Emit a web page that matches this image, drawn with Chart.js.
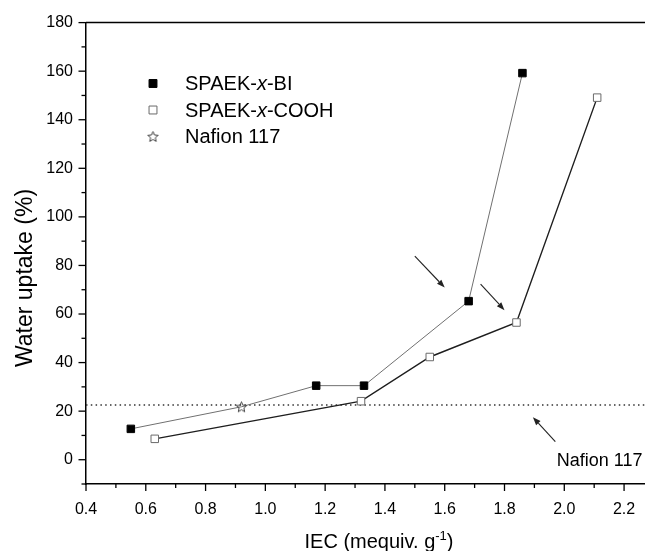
<!DOCTYPE html>
<html>
<head>
<meta charset="utf-8">
<title>Water uptake vs IEC</title>
<script src="https://cdn.jsdelivr.net/npm/chart.js@4.4.0/dist/chart.umd.min.js"></script>
<style>
  html, body { margin: 0; padding: 0; background: #fff; overflow: hidden; }
</style>
</head>
<body>
<canvas id="myChart" width="645" height="551"></canvas>
<script>
// water uptake (%) against ion exchange capacity (mequiv/g)
const biIec = [0.55, 1.17, 1.33, 1.68, 1.86];
const biUptake = [12.7, 30.5, 30.5, 65.3, 159.2];
const coohIec = [0.63, 1.32, 1.55, 1.84, 2.11];
const coohUptake = [8.6, 24.1, 42.3, 56.5, 149.1];
const nafionIec = [0.92];
const nafionUptake = [21.8];
const nafionLevel = 22.5;

const xRange = [0.4, 2.27];
const yRange = [-10, 180];

const FONT = "'Liberation Sans', Arial, Helvetica, sans-serif";
Chart.defaults.font.family = FONT;
Chart.defaults.color = '#000';

// five-pointed open star used for the Nafion point
function starMarker(size, color) {
  const c = document.createElement('canvas');
  c.width = size; c.height = size;
  const g = c.getContext('2d');
  const cx = size / 2, cy = size / 2 + 0.5, R = size / 2 - 1, r = R * 0.45;
  g.beginPath();
  for (let i = 0; i < 10; i++) {
    const a = -Math.PI / 2 + i * Math.PI / 5;
    const rad = i % 2 ? r : R;
    g.lineTo(cx + rad * Math.cos(a), cy + rad * Math.sin(a));
  }
  g.closePath();
  g.strokeStyle = color;
  g.lineWidth = 1;
  g.stroke();
  return c;
}
const star = starMarker(13, '#444');

// the BI curve passes through the Nafion point, so merge them for the line
const biLine = biIec.map((x, i) => ({ x: x, y: biUptake[i], nafion: false }))
  .concat(nafionIec.map((x, i) => ({ x: x, y: nafionUptake[i], nafion: true })))
  .sort((a, b) => a.x - b.x);
const coohLine = coohIec.map((x, i) => ({ x: x, y: coohUptake[i] }));
const nafionRef = [{ x: xRange[0], y: nafionLevel }, { x: xRange[1], y: nafionLevel }];

const isMajor = (v, step) => Math.abs(v / step - Math.round(v / step)) < 1e-6;

// arrows and note, given in data units
const arrows = [
  { from: [1.50, 83.8], to: [1.60, 70.9] },
  { from: [1.72, 72.3], to: [1.80, 61.6] },
  { from: [1.97, 7.5], to: [1.895, 17.5] }
];

const extras = {
  id: 'extras',
  afterDraw(chart) {
    const { ctx, chartArea, scales: { x, y } } = chart;
    ctx.save();

    // top frame line
    ctx.strokeStyle = '#000';
    ctx.lineWidth = 1.5;
    ctx.beginPath();
    ctx.moveTo(chartArea.left, chartArea.top);
    ctx.lineTo(chartArea.right, chartArea.top);
    ctx.stroke();

    // outward ticks, long on labelled values
    ctx.lineWidth = 1.3;
    x.ticks.forEach(t => {
      const px = x.getPixelForValue(t.value);
      const len = isMajor(t.value, 0.2) ? 7 : 4;
      ctx.beginPath();
      ctx.moveTo(px, chartArea.bottom);
      ctx.lineTo(px, chartArea.bottom + len);
      ctx.stroke();
    });
    y.ticks.forEach(t => {
      const py = y.getPixelForValue(t.value);
      const len = isMajor(t.value, 20) ? 7.5 : 4.5;
      ctx.beginPath();
      ctx.moveTo(chartArea.left, py);
      ctx.lineTo(chartArea.left - len, py);
      ctx.stroke();
    });

    // arrows
    ctx.strokeStyle = '#222';
    ctx.fillStyle = '#222';
    ctx.lineWidth = 1.1;
    arrows.forEach(a => {
      const x0 = x.getPixelForValue(a.from[0]), y0 = y.getPixelForValue(a.from[1]);
      const x1 = x.getPixelForValue(a.to[0]), y1 = y.getPixelForValue(a.to[1]);
      const ang = Math.atan2(y1 - y0, x1 - x0);
      const hl = 8, hw = 3;
      const bx = x1 - hl * Math.cos(ang), by = y1 - hl * Math.sin(ang);
      ctx.beginPath();
      ctx.moveTo(x0, y0);
      ctx.lineTo(bx, by);
      ctx.stroke();
      ctx.beginPath();
      ctx.moveTo(x1, y1);
      ctx.lineTo(bx + hw * Math.sin(ang), by - hw * Math.cos(ang));
      ctx.lineTo(bx - hw * Math.sin(ang), by + hw * Math.cos(ang));
      ctx.closePath();
      ctx.fill();
    });

    // note under the reference line
    ctx.fillStyle = '#000';
    ctx.font = '18px ' + FONT;
    ctx.textBaseline = 'alphabetic';
    ctx.textAlign = 'left';
    ctx.fillText('Nafion 117', x.getPixelForValue(1.975), y.getPixelForValue(-2.5));

    // x axis title with superscript
    const main = 'IEC (mequiv. g', sup = '-1', tail = ')';
    ctx.font = '20px ' + FONT;
    const wMain = ctx.measureText(main).width, wTail = ctx.measureText(tail).width;
    ctx.font = '13px ' + FONT;
    const wSup = ctx.measureText(sup).width;
    let tx = 379 - (wMain + wSup + wTail) / 2;
    const ty = 547.5;
    ctx.font = '20px ' + FONT;
    ctx.fillText(main, tx, ty); tx += wMain;
    ctx.font = '13px ' + FONT;
    ctx.fillText(sup, tx, ty - 8); tx += wSup;
    ctx.font = '20px ' + FONT;
    ctx.fillText(tail, tx, ty);

    // y axis title, rotated
    ctx.save();
    ctx.translate(32, 278);
    ctx.rotate(-Math.PI / 2);
    ctx.font = '23px ' + FONT;
    ctx.textAlign = 'center';
    ctx.fillText('Water uptake (%)', 0, 0);
    ctx.restore();

    // legend
    const rows = [
      { ds: 0, parts: [['SPAEK-', false], ['x', true], ['-BI', false]], y: 84.5 },
      { ds: 1, parts: [['SPAEK-', false], ['x', true], ['-COOH', false]], y: 111 },
      { ds: -1, parts: [['Nafion 117', false]], y: 137.5 }
    ];
    ctx.textAlign = 'left';
    rows.forEach(r => {
      if (r.ds >= 0) {
        const d = chart.data.datasets[r.ds];
        ctx.fillStyle = d.pointBackgroundColor;
        ctx.strokeStyle = d.pointBorderColor;
        ctx.lineWidth = 1;
        Chart.helpers.drawPoint(ctx, { pointStyle: 'rect', radius: 5.6, rotation: 0, borderWidth: 1 }, 153, r.y - 1);
      } else {
        ctx.drawImage(star, 153 - star.width / 2, r.y - 1 - star.height / 2);
      }
      let lx = 185;
      ctx.fillStyle = '#000';
      ctx.textBaseline = 'middle';
      r.parts.forEach(p => {
        ctx.font = (p[1] ? 'italic ' : '') + '20px ' + FONT;
        ctx.fillText(p[0], lx, r.y);
        lx += ctx.measureText(p[0]).width;
      });
    });

    ctx.restore();
  }
};

const myChart = new Chart(document.getElementById('myChart'), {
  type: 'line',
  data: {
    datasets: [
      {
        label: 'SPAEK-x-BI',
        data: biLine,
        borderColor: '#707070',
        borderWidth: 1,
        pointStyle: ctx => (ctx.raw && ctx.raw.nafion ? star : 'rect'),
        pointRadius: 5.3,
        pointBackgroundColor: '#000',
        pointBorderColor: '#000',
        pointBorderWidth: 1
      },
      {
        label: 'SPAEK-x-COOH',
        data: coohLine,
        borderColor: '#1e1e1e',
        borderWidth: 1.4,
        pointStyle: 'rect',
        pointRadius: 5.3,
        pointBackgroundColor: '#fff',
        pointBorderColor: '#6a6a6a',
        pointBorderWidth: 1
      },
      {
        label: 'Nafion 117',
        data: nafionRef,
        borderColor: '#333',
        borderWidth: 1.5,
        borderDash: [1.5, 3.3],
        pointRadius: 0
      }
    ]
  },
  options: {
    responsive: false,
    animation: false,
    devicePixelRatio: 1,
    layout: { autoPadding: false, padding: { top: 22, right: 0, bottom: 0, left: 0 } },
    plugins: { legend: { display: false }, tooltip: { enabled: false } },
    elements: { line: { tension: 0 } },
    scales: {
      x: {
        type: 'linear',
        min: xRange[0],
        max: xRange[1],
        afterFit: s => { s.height = 67; s.paddingLeft = 0; s.paddingRight = 0; },
        border: { color: '#000', width: 1.5 },
        grid: { display: false, drawTicks: false },
        ticks: {
          stepSize: 0.1,
          includeBounds: false,
          autoSkip: false,
          maxRotation: 0,
          padding: 16,
          font: { size: 16 },
          callback: v => (isMajor(v, 0.2) ? v.toFixed(1) : '')
        }
      },
      y: {
        type: 'linear',
        min: yRange[0],
        max: yRange[1],
        afterFit: s => { s.width = 86; },
        border: { color: '#000', width: 1.5 },
        grid: { display: false, drawTicks: false },
        ticks: {
          stepSize: 10,
          autoSkip: false,
          padding: 13,
          font: { size: 16 },
          callback: v => (isMajor(v, 20) ? String(v) : '')
        }
      }
    }
  },
  plugins: [extras]
});
</script>
</body>
</html>
